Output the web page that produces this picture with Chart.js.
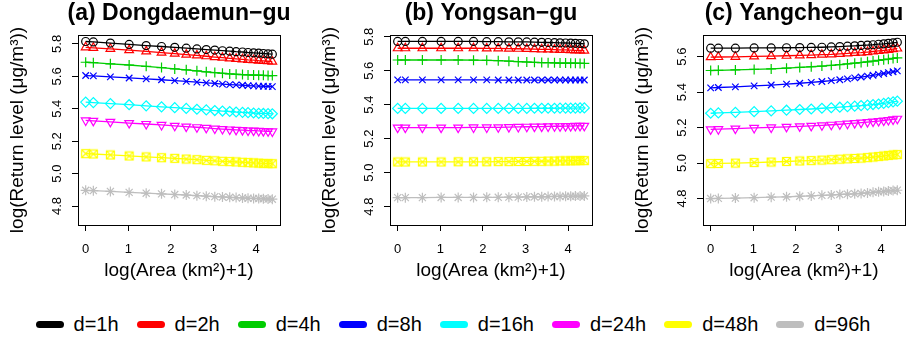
<!DOCTYPE html>
<html>
<head>
<meta charset="utf-8">
<script src="https://cdn.jsdelivr.net/npm/chart.js@4.4.1/dist/chart.umd.min.js"></script>
<style>
  body { margin: 0; background: #fff; overflow: hidden; width: 906px; height: 343px; position: relative; }
  canvas { position: absolute; top: 0; }
  #legend { position: absolute; left: 0; width: 906px; top: 313px; display: flex; justify-content: center;
            font-family: 'Liberation Sans', Arial, sans-serif; font-size: 20px; color: #000; }
  .item { display: flex; align-items: center; margin: 0 9px; }
  .swatch { display: inline-block; width: 28px; height: 7px; border-radius: 3.5px; margin-right: 10px; }
</style>
</head>
<body>
<canvas id="c0" width="358" height="300" style="left:0px"></canvas>
<canvas id="c1" width="358" height="300" style="left:312px"></canvas>
<canvas id="c2" width="358" height="300" style="left:625px"></canvas>
<div id="legend"></div>
<script>
// x positions: log(Area (km2)+1)
const xArea = [0, 0.18, 0.58, 1.02, 1.42, 1.78, 2.09, 2.36, 2.61, 2.83, 3.03, 3.21, 3.38, 3.53, 3.68, 3.81, 3.94, 4.06, 4.17, 4.28, 4.38];

const durations = ['d=1h', 'd=2h', 'd=4h', 'd=8h', 'd=16h', 'd=24h', 'd=48h', 'd=96h'];
const lineColors = ['#000000', '#FF0000', '#00CD00', '#0000FF', '#00FFFF', '#FF00FF', '#FFFF00', '#BEBEBE'];

// log return levels, one row per duration
const dongdaemun = [
  [5.815, 5.812, 5.805, 5.797, 5.790, 5.784, 5.779, 5.774, 5.769, 5.765, 5.762, 5.758, 5.755, 5.752, 5.750, 5.747, 5.745, 5.743, 5.741, 5.739, 5.737],
  [5.779, 5.776, 5.770, 5.762, 5.754, 5.746, 5.740, 5.734, 5.729, 5.724, 5.719, 5.715, 5.711, 5.708, 5.705, 5.702, 5.700, 5.697, 5.695, 5.693, 5.691],
  [5.687, 5.684, 5.677, 5.670, 5.662, 5.654, 5.646, 5.640, 5.634, 5.628, 5.623, 5.619, 5.615, 5.613, 5.611, 5.609, 5.608, 5.607, 5.606, 5.605, 5.605],
  [5.605, 5.603, 5.597, 5.590, 5.584, 5.579, 5.574, 5.569, 5.564, 5.560, 5.556, 5.552, 5.549, 5.547, 5.545, 5.543, 5.541, 5.540, 5.539, 5.538, 5.537],
  [5.441, 5.438, 5.432, 5.425, 5.418, 5.412, 5.407, 5.402, 5.397, 5.393, 5.389, 5.386, 5.383, 5.380, 5.378, 5.376, 5.374, 5.372, 5.371, 5.370, 5.369],
  [5.328, 5.325, 5.319, 5.312, 5.306, 5.300, 5.295, 5.290, 5.286, 5.282, 5.278, 5.275, 5.272, 5.270, 5.268, 5.266, 5.265, 5.263, 5.262, 5.261, 5.260],
  [5.123, 5.121, 5.115, 5.109, 5.103, 5.098, 5.094, 5.090, 5.086, 5.082, 5.079, 5.076, 5.074, 5.072, 5.070, 5.068, 5.066, 5.065, 5.063, 5.062, 5.061],
  [4.897, 4.895, 4.890, 4.884, 4.879, 4.875, 4.871, 4.868, 4.864, 4.861, 4.858, 4.856, 4.854, 4.852, 4.850, 4.848, 4.847, 4.846, 4.845, 4.843, 4.842]
];
const yongsan = [
  [5.772, 5.772, 5.772, 5.772, 5.772, 5.772, 5.771, 5.771, 5.770, 5.770, 5.769, 5.768, 5.767, 5.766, 5.765, 5.764, 5.763, 5.762, 5.761, 5.760, 5.758],
  [5.732, 5.732, 5.732, 5.732, 5.732, 5.732, 5.731, 5.731, 5.730, 5.729, 5.728, 5.727, 5.726, 5.725, 5.724, 5.723, 5.722, 5.721, 5.720, 5.719, 5.718],
  [5.663, 5.663, 5.663, 5.663, 5.663, 5.662, 5.661, 5.659, 5.656, 5.653, 5.651, 5.649, 5.648, 5.647, 5.646, 5.645, 5.645, 5.644, 5.644, 5.643, 5.643],
  [5.546, 5.546, 5.546, 5.546, 5.546, 5.546, 5.546, 5.545, 5.545, 5.545, 5.545, 5.545, 5.545, 5.545, 5.545, 5.545, 5.545, 5.545, 5.545, 5.545, 5.545],
  [5.378, 5.378, 5.378, 5.378, 5.378, 5.378, 5.378, 5.378, 5.378, 5.378, 5.378, 5.379, 5.379, 5.379, 5.379, 5.380, 5.380, 5.380, 5.380, 5.381, 5.381],
  [5.265, 5.265, 5.265, 5.265, 5.265, 5.266, 5.266, 5.267, 5.268, 5.269, 5.270, 5.271, 5.271, 5.272, 5.273, 5.273, 5.274, 5.274, 5.275, 5.275, 5.275],
  [5.063, 5.063, 5.063, 5.063, 5.064, 5.064, 5.064, 5.065, 5.065, 5.066, 5.066, 5.067, 5.067, 5.068, 5.068, 5.069, 5.069, 5.070, 5.070, 5.071, 5.071],
  [4.853, 4.853, 4.853, 4.854, 4.854, 4.854, 4.855, 4.855, 4.856, 4.856, 4.857, 4.858, 4.858, 4.859, 4.860, 4.860, 4.861, 4.861, 4.862, 4.862, 4.863]
];
const yangcheon = [
  [5.648, 5.648, 5.648, 5.649, 5.649, 5.650, 5.651, 5.652, 5.653, 5.655, 5.657, 5.659, 5.661, 5.663, 5.665, 5.667, 5.670, 5.672, 5.675, 5.678, 5.681],
  [5.597, 5.598, 5.599, 5.601, 5.603, 5.605, 5.607, 5.609, 5.611, 5.613, 5.616, 5.618, 5.621, 5.623, 5.626, 5.629, 5.632, 5.635, 5.638, 5.642, 5.646],
  [5.522, 5.523, 5.525, 5.528, 5.531, 5.535, 5.539, 5.543, 5.547, 5.551, 5.555, 5.559, 5.563, 5.567, 5.571, 5.575, 5.579, 5.583, 5.586, 5.590, 5.593],
  [5.424, 5.426, 5.430, 5.435, 5.440, 5.445, 5.450, 5.455, 5.460, 5.465, 5.470, 5.475, 5.480, 5.485, 5.490, 5.495, 5.500, 5.505, 5.510, 5.515, 5.520],
  [5.281, 5.283, 5.286, 5.290, 5.294, 5.298, 5.302, 5.305, 5.309, 5.312, 5.315, 5.318, 5.321, 5.324, 5.327, 5.330, 5.333, 5.337, 5.341, 5.345, 5.349],
  [5.190, 5.191, 5.194, 5.198, 5.201, 5.204, 5.207, 5.210, 5.213, 5.216, 5.219, 5.222, 5.225, 5.228, 5.231, 5.234, 5.237, 5.240, 5.243, 5.246, 5.250],
  [4.997, 4.998, 5.000, 5.003, 5.006, 5.009, 5.012, 5.014, 5.017, 5.019, 5.022, 5.024, 5.026, 5.028, 5.031, 5.034, 5.037, 5.040, 5.043, 5.046, 5.048],
  [4.800, 4.801, 4.803, 4.805, 4.808, 4.810, 4.813, 4.815, 4.818, 4.820, 4.823, 4.825, 4.827, 4.829, 4.832, 4.835, 4.838, 4.840, 4.843, 4.845, 4.847]
];

const panelTitles = ['(a) Dongdaemun\u2212gu', '(b) Yongsan\u2212gu', '(c) Yangcheon\u2212gu'];
const panelData = [dongdaemun, yongsan, yangcheon];
const yLimits = [[4.683, 5.855], [4.692, 5.810], [4.651, 5.722]];
const yTickValues = [[4.8, 5.0, 5.2, 5.4, 5.6, 5.8], [4.8, 5.0, 5.2, 5.4, 5.6, 5.8], [4.8, 5.0, 5.2, 5.4, 5.6]];
const xTickValues = [0, 1, 2, 3, 4];

Chart.defaults.font.family = "'Liberation Sans', Arial, sans-serif";
Chart.defaults.color = '#000';

// square with an x inside (R pch 7)
function boxedCross(color) {
  const c = document.createElement('canvas');
  c.width = 11; c.height = 11;
  const g = c.getContext('2d');
  g.strokeStyle = color;
  g.lineWidth = 1.2;
  g.strokeRect(1.5, 1.5, 8, 8);
  g.beginPath();
  g.moveTo(1.5, 1.5); g.lineTo(9.5, 9.5);
  g.moveTo(9.5, 1.5); g.lineTo(1.5, 9.5);
  g.stroke();
  return c;
}

const markers = [
  { style: 'circle', radius: 4, rot: 0 },
  { style: 'triangle', radius: 5, rot: 0 },
  { style: 'cross', radius: 5, rot: 0 },
  { style: 'crossRot', radius: 4.6, rot: 0 },
  { style: 'rectRot', radius: 5, rot: 0 },
  { style: 'triangle', radius: 5, rot: 180 },
  { style: null, radius: 5, rot: 0 },
  { style: 'star', radius: 5, rot: 0 }
];

// box around the plot region and vertical y tick labels, like base R graphics
const frame = {
  id: 'frame',
  afterDraw(chart) {
    const { ctx, chartArea: a } = chart;
    ctx.save();
    ctx.strokeStyle = '#000';
    ctx.lineWidth = 1;
    ctx.strokeRect(Math.round(a.left) + 0.5, Math.round(a.top) + 0.5,
      Math.round(a.right - a.left), Math.round(a.bottom - a.top));
    const ys = chart.scales.y;
    ctx.fillStyle = '#000';
    ctx.font = "13px 'Liberation Sans', Arial, sans-serif";
    ctx.textAlign = 'center';
    ctx.textBaseline = 'middle';
    ys.ticks.forEach(t => {
      ctx.save();
      ctx.translate(ys.right - 21, ys.getPixelForValue(t.value));
      ctx.rotate(-Math.PI / 2);
      ctx.fillText(t.value.toFixed(1), 0, 0);
      ctx.restore();
    });
    ctx.restore();
  }
};

panelData.forEach((rows, p) => {
  const datasets = rows.map((vals, i) => ({
    label: durations[i],
    data: vals.map((v, k) => ({ x: xArea[k], y: v })),
    borderColor: lineColors[i],
    backgroundColor: 'transparent',
    borderWidth: 1.3,
    pointStyle: markers[i].style || boxedCross(lineColors[i]),
    pointRadius: markers[i].radius,
    pointRotation: markers[i].rot,
    pointBorderWidth: 1.2,
    pointBorderColor: lineColors[i],
    pointBackgroundColor: 'transparent',
    tension: 0
  }));

  new Chart(document.getElementById('c' + p), {
    type: 'line',
    data: { datasets: datasets },
    plugins: [frame],
    options: {
      responsive: false,
      animation: false,
      events: [],
      layout: { padding: 0 },
      plugins: {
        legend: { display: false },
        tooltip: { enabled: false },
        title: {
          display: true,
          text: panelTitles[p],
          font: { size: 23, weight: 'bold', lineHeight: '26px' },
          padding: { top: 1, bottom: 8 }
        }
      },
      scales: {
        x: {
          type: 'linear',
          min: -0.18,
          max: 4.56,
          afterBuildTicks: s => { s.ticks = xTickValues.map(v => ({ value: v })); },
          afterFit: s => { s.height = 75; },
          grid: { drawOnChartArea: false, drawTicks: true, tickLength: 6, color: '#000' },
          border: { display: true, color: '#000' },
          ticks: { font: { size: 13 }, padding: 11, maxRotation: 0, callback: v => String(v) },
          title: { display: true, text: 'log(Area (km\u00b2)+1)', font: { size: 19, lineHeight: 1.2 }, padding: { top: 0, bottom: 18 } }
        },
        y: {
          type: 'linear',
          min: yLimits[p][0],
          max: yLimits[p][1],
          afterBuildTicks: s => { s.ticks = yTickValues[p].map(v => ({ value: v })); },
          afterFit: s => { s.width = 78; },
          grid: { drawOnChartArea: false, drawTicks: true, tickLength: 6, color: '#000' },
          border: { display: true, color: '#000' },
          ticks: { display: false },
          title: { display: true, text: 'log(Return level (\u03bcg/m\u00b3))', font: { size: 19, lineHeight: 1.2 }, padding: { top: 6, bottom: 0 } }
        },
        // empty right margin, same width as the left axis, so the title centres over the plot box
        yPad: {
          type: 'linear',
          position: 'right',
          afterFit: s => { s.width = 78; },
          grid: { display: false },
          border: { display: false },
          ticks: { display: false }
        }
      }
    }
  });
});

// shared legend under the panels
const legend = document.getElementById('legend');
durations.forEach((d, i) => {
  const item = document.createElement('span');
  item.className = 'item';
  const sw = document.createElement('span');
  sw.className = 'swatch';
  sw.style.background = lineColors[i];
  item.appendChild(sw);
  item.appendChild(document.createTextNode(d));
  legend.appendChild(item);
});
</script>
</body>
</html>
